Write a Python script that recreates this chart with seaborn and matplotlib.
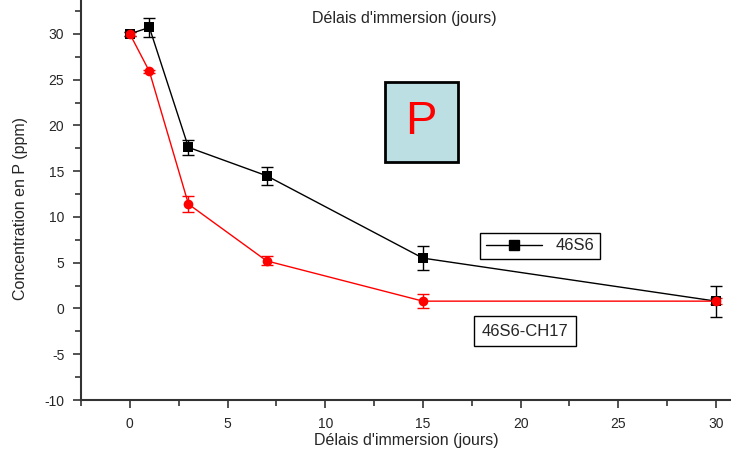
import numpy as np
import matplotlib
matplotlib.use('Agg')
import matplotlib.pyplot as plt
import seaborn as sns
import pandas as pd
from matplotlib.lines import Line2D
from matplotlib.patches import Rectangle
from matplotlib.ticker import MultipleLocator

# Values
days = [0, 1, 3, 7, 15, 30]
s46 = [30.0, 30.7, 17.6, 14.5, 5.5, 0.8]
s46_err = [0.2, 1.0, 0.8, 1.0, 1.3, 1.7]
ch17 = [30.0, 25.9, 11.4, 5.2, 0.8, 0.8]
ch17_err = [0.2, 0.2, 0.9, 0.5, 0.75, 0.3]
series_names = ['46S6', '46S6-CH17']
x_label = "Délais d'immersion (jours)"
y_label = 'Concentration en P (ppm)'

sns.set_style('ticks')
plt.rcParams['font.family'] = ['Liberation Sans', 'DejaVu Sans']
plt.rcParams['axes.unicode_minus'] = False

df = pd.DataFrame({'jours': days * 2,
                   'conc': s46 + ch17,
                   'err': s46_err + ch17_err,
                   'serie': [series_names[0]] * len(days) + [series_names[1]] * len(days)})

fig = plt.figure(figsize=(7.31, 4.51), dpi=100)
ax = fig.add_axes([81 / 731, 51 / 451, 1 - 81 / 731, 1 - 51 / 451])

palette = {series_names[0]: 'black', series_names[1]: 'red'}
markers = {series_names[0]: 's', series_names[1]: 'o'}

# error bars first, then lines and markers on top
for name in series_names:
    sub = df[df['serie'] == name]
    ax.errorbar(sub['jours'], sub['conc'], yerr=sub['err'], fmt='none',
                ecolor=palette[name], elinewidth=1, capsize=4.5, capthick=1, zorder=2)

sns.lineplot(data=df, x='jours', y='conc', hue='serie', style='serie',
             palette=palette, markers=markers, dashes=False, markersize=7,
             markeredgewidth=0, linewidth=1, legend=False, ax=ax, zorder=3)

ax.set_xlim(-2.5, 30.77)
ax.set_ylim(-10, 33.7)
ax.xaxis.set_major_locator(MultipleLocator(5))
ax.xaxis.set_minor_locator(MultipleLocator(2.5))
ax.yaxis.set_major_locator(MultipleLocator(5))
ax.yaxis.set_minor_locator(MultipleLocator(2.5))
ax.tick_params(which='major', direction='out', length=6, width=1.2, color='#333333',
               labelsize=10, pad=6)
ax.tick_params(which='minor', direction='out', length=4, width=1.2, color='#333333')
for side in ['top', 'right']:
    ax.spines[side].set_visible(False)
for side in ['left', 'bottom']:
    ax.spines[side].set_linewidth(1.5)
    ax.spines[side].set_color('#333333')

ax.set_xlabel(x_label, fontsize=11.5)
ax.xaxis.set_label_coords(0.5, -0.083)
ax.set_ylabel(y_label, fontsize=11.5)
ax.yaxis.set_label_coords(-0.082, 0.48)

# label of the (cropped) top axis
fig.text(404 / 731, 1 - 19 / 451, x_label, fontsize=11.5, ha='center', va='center')

# legend with the single black entry
handle = Line2D([], [], color='black', marker='s', markersize=7, linewidth=1)
leg = ax.legend([handle], [series_names[0]], loc='center', handlelength=3.4,
                bbox_to_anchor=(540 / 731, 1 - 246 / 451), bbox_transform=fig.transFigure,
                fancybox=False, framealpha=1, edgecolor='black', fontsize=12,
                borderpad=0.35, handletextpad=0.8)
leg.get_frame().set_linewidth(1)

# second label box
fig.text(525 / 731, 1 - 331 / 451, series_names[1], fontsize=12, ha='center', va='center',
         bbox=dict(boxstyle='square,pad=0.45', facecolor='white', edgecolor='black', linewidth=1))

# "P" badge
fig.patches.append(Rectangle((385 / 731, 1 - 162 / 451), 73 / 731, 80 / 451,
                             transform=fig.transFigure, facecolor='#bcdfe3',
                             edgecolor='black', linewidth=2, zorder=5))
fig.text(421 / 731, 1 - 122 / 451, 'P', fontsize=34, color='red', ha='center',
         va='center', zorder=6)

fig.savefig('out.png', dpi=100)
